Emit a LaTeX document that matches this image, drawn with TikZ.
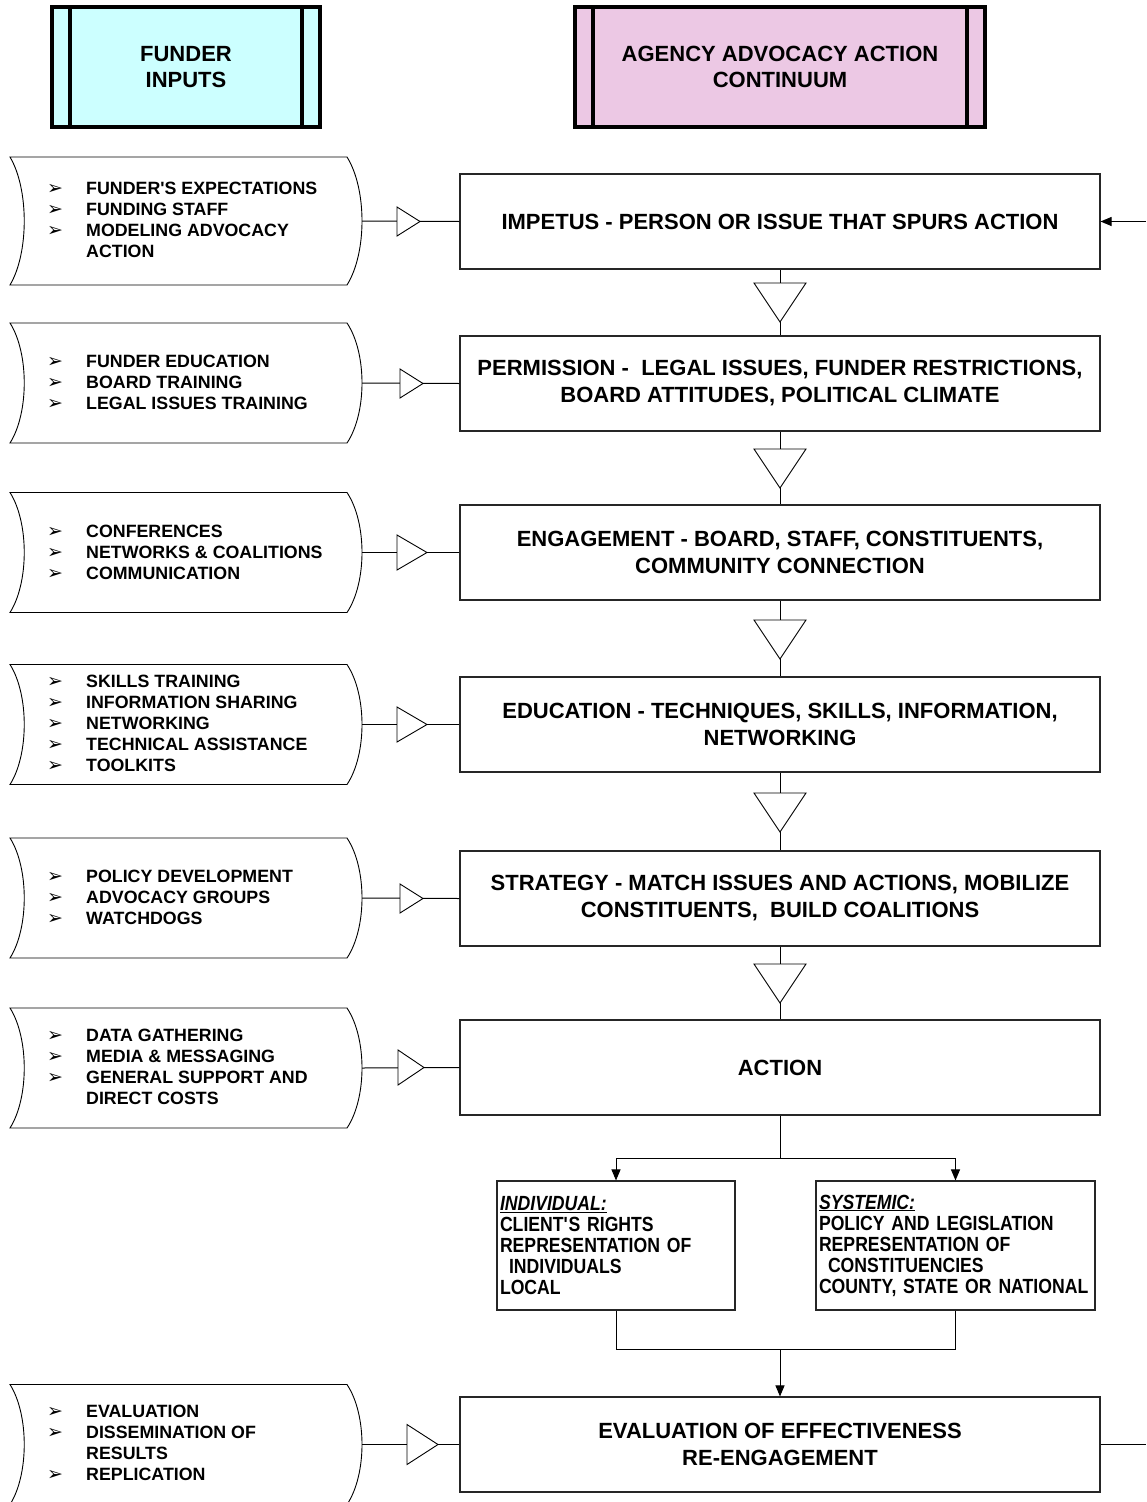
\documentclass[tikz,border=0pt]{standalone}
\usepackage{fontspec}
\setmainfont{Liberation Sans}
\newfontfamily\dejavu{DejaVu Sans}
\newfontfamily\narrowf[FakeStretch=0.86]{Liberation Sans}
\usetikzlibrary{arrows.meta}
\definecolor{hdrcyan}{RGB}{204,255,255}
\definecolor{hdrpink}{RGB}{236,200,228}
\newcommand\bul{\makebox[39pt][l]{\hspace*{0pt}{\dejavu\fontsize{19}{19}\selectfont ➢}}}
\newcommand\bulind{\hspace*{39pt}}
\newcommand\inshape[3]{%
  \draw[shapeline] (10,#1-#2) -- (347,#1-#2) .. controls (367,#1-#2/2) and (367,#1+#2/2) .. (347,#1+#2)
     -- (10,#1+#2) .. controls (29,#1+#2/2) and (29,#1-#2/2) .. (10,#1-#2) -- cycle;
  \coordinate (#3) at (362,#1);}
\newcommand\htri[4]{\draw[tri] (#1,#2-#4/2) -- (#1+#3,#2) -- (#1,#2+#4/2) -- cycle;}
\newcommand\vtri[1]{\draw[tri] (754,#1) -- (806,#1) -- (780,#1+39) -- cycle;}
\begin{document}
\begin{tikzpicture}[x=1pt,y=-1pt,
  hdr/.style={draw=black, line width=4pt, minimum height=120, align=center, inner sep=0,
     font=\bfseries\fontsize{22}{26}\selectfont},
  mainbox/.style={draw=black!85, line width=1.1pt, fill=white, minimum width=640, minimum height=95,
     align=center, inner sep=0, font=\bfseries\fontsize{22}{27}\selectfont},
  smallbox/.style={draw=black!85, line width=1.1pt, minimum height=129, inner xsep=3pt, inner ysep=0,
     align=left, font=\narrowf\bfseries\fontsize{20.5}{21}\selectfont},
  intext/.style={anchor=west, inner sep=0, align=left, font=\bfseries\fontsize{17.8}{21}\selectfont},
  shapeline/.style={draw=black, line width=0.9pt, fill=white},
  conn/.style={draw=black, line width=1pt},
  tri/.style={draw=black, line width=0.9pt, fill=white},
  arr/.style={conn, -{Triangle[length=11pt,width=9pt]}}
]
\useasboundingbox (0,0) rectangle (1146,1502);

% headers
\node[hdr, fill=hdrcyan, minimum width=268] (fh) at (186,67) {FUNDER\\INPUTS};
\draw[line width=4pt] ([xshift=20pt]fh.north west) -- ([xshift=20pt]fh.south west);
\draw[line width=4pt] ([xshift=-20pt]fh.north east) -- ([xshift=-20pt]fh.south east);
\node[hdr, fill=hdrpink, minimum width=410] (ah) at (780,67) {AGENCY ADVOCACY ACTION\\CONTINUUM};
\draw[line width=4pt] ([xshift=20pt]ah.north west) -- ([xshift=20pt]ah.south west);
\draw[line width=4pt] ([xshift=-20pt]ah.north east) -- ([xshift=-20pt]ah.south east);

% main boxes
\node[mainbox] (b1) at (780,221.5) {IMPETUS - PERSON OR ISSUE THAT SPURS ACTION};
\node[mainbox] (b2) at (780,383.5) {PERMISSION -\ \ LEGAL ISSUES, FUNDER RESTRICTIONS,\\BOARD ATTITUDES, POLITICAL CLIMATE};
\node[mainbox] (b3) at (780,552.5) {ENGAGEMENT - BOARD, STAFF, CONSTITUENTS,\\COMMUNITY CONNECTION};
\node[mainbox] (b4) at (780,724.5) {EDUCATION - TECHNIQUES, SKILLS, INFORMATION,\\NETWORKING};
\node[mainbox] (b5) at (780,898.5) {STRATEGY - MATCH ISSUES AND ACTIONS, MOBILIZE\\CONSTITUENTS,\ \ BUILD COALITIONS};
\node[mainbox] (b6) at (780,1067.5) {ACTION};
\node[mainbox] (b7) at (780,1444.5) {EVALUATION OF EFFECTIVENESS\\RE-ENGAGEMENT};

% small boxes
\node[smallbox, minimum width=238, text width=232] (ind) at (616,1245.5)
  {\underline{\textit{INDIVIDUAL:}}\\CLIENT\textquotesingle S RIGHTS\\REPRESENTATION OF\\\hspace*{9pt}INDIVIDUALS\\LOCAL};
\node[smallbox, minimum width=279, text width=273] (sys) at (955.5,1245.5)
  {\underline{\textit{SYSTEMIC:}}\\POLICY AND LEGISLATION\\REPRESENTATION OF\\\hspace*{9pt}CONSTITUENCIES\\COUNTY, STATE OR NATIONAL};

% left input shapes
\inshape{221}{64}{l1}
\inshape{383}{60}{l2}
\inshape{552.5}{60}{l3}
\inshape{724.5}{60}{l4}
\inshape{898}{60}{l5}
\inshape{1068}{60}{l6}
\inshape{1444.5}{60}{l7}

\node[intext] (t1) at (47,219.5) {\bul FUNDER\textquotesingle S EXPECTATIONS\\\bul FUNDING STAFF\\\bul MODELING ADVOCACY\\\bulind ACTION};
\node[intext] (t2) at (47,382) {\bul FUNDER EDUCATION\\\bul BOARD TRAINING\\\bul LEGAL ISSUES TRAINING};
\node[intext] (t3) at (47,552) {\bul CONFERENCES\\\bul NETWORKS \& COALITIONS\\\bul COMMUNICATION};
\node[intext] (t4) at (47,723.5) {\bul SKILLS TRAINING\\\bul INFORMATION SHARING\\\bul NETWORKING\\\bul TECHNICAL ASSISTANCE\\\bul TOOLKITS};
\node[intext] (t5) at (47,897) {\bul POLICY DEVELOPMENT\\\bul ADVOCACY GROUPS\\\bul WATCHDOGS};
\node[intext] (t6) at (47,1067) {\bul DATA GATHERING\\\bul MEDIA \& MESSAGING\\\bul GENERAL SUPPORT AND\\\bulind DIRECT COSTS};
\node[intext] (t7) at (47,1443) {\bul EVALUATION\\\bul DISSEMINATION OF\\\bulind RESULTS\\\bul REPLICATION};

% horizontal connectors
\draw[conn] (l1) -- (b1.west);
\draw[conn] (l2) -- (b2.west);
\draw[conn] (l3) -- (b3.west);
\draw[conn] (l4) -- (b4.west);
\draw[conn] (l5) -- (b5.west);
\draw[conn] (l6) -- (b6.west);
\draw[conn] (l7) -- (b7.west);
\htri{397}{221.5}{23}{29}
\htri{400}{383.5}{23}{29}
\htri{397}{552.5}{30}{35}
\htri{397}{724.5}{30}{35}
\htri{400}{898.5}{23}{29}
\htri{398}{1067.5}{26}{35}
\htri{407}{1444.5}{31}{40}

% vertical connectors
\draw[conn] (b1.south) -- (b2.north);
\draw[conn] (b2.south) -- (b3.north);
\draw[conn] (b3.south) -- (b4.north);
\draw[conn] (b4.south) -- (b5.north);
\draw[conn] (b5.south) -- (b6.north);
\vtri{283}
\vtri{449}
\vtri{620}
\vtri{793}
\vtri{964}

% branch
\coordinate (sp) at (780,1158);
\coordinate (jn) at (780,1349);
\draw[conn] (b6.south) -- (sp);
\draw[arr] (sp) -| (ind.north);
\draw[arr] (sp) -| (sys.north);
\draw[conn] (ind.south) |- (jn);
\draw[conn] (sys.south) |- (jn);
\draw[arr] (jn) -- (b7.north);

% loop back on the right
\coordinate (r1) at (1146,221.5);
\coordinate (r7) at (1146,1444.5);
\draw[arr] (r1) -- (b1.east);
\draw[conn] (b7.east) -- (r7);
\end{tikzpicture}
\end{document}
